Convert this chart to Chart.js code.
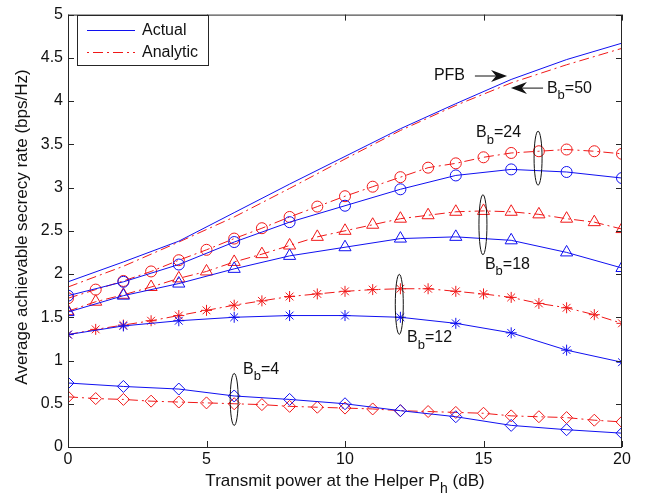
<!DOCTYPE html>
<html>
<head>
<meta charset="utf-8">
<script src="https://cdn.jsdelivr.net/npm/chart.js@4.4.0/dist/chart.umd.min.js"></script>
<style>
  html, body { margin: 0; padding: 0; background: #fff; }
</style>
</head>
<body>
<canvas id="myChart" width="651" height="495"></canvas>
<script>
// transmit power (dB): simulation points every 2 dB, analytic every 1 dB
const powerEven = [0, 2, 4, 6, 8, 10, 12, 14, 16, 18, 20];
const powerAll = [0, 1, 2, 3, 4, 5, 6, 7, 8, 9, 10, 11, 12, 13, 14, 15, 16, 17, 18, 19, 20];

const pfbActual = [1.91, 2.14, 2.38, 2.71, 3.04, 3.36, 3.68, 3.97, 4.25, 4.48, 4.67];
const bb50Analytic = [1.85, 2.09, 2.37, 2.66, 2.99, 3.33, 3.66, 3.95, 4.21, 4.42, 4.61];

const bb24Actual = [1.75, 1.91, 2.11, 2.37, 2.60, 2.79, 2.98, 3.14, 3.21, 3.18, 3.11];
const bb24Analytic = [1.72, 1.82, 1.92, 2.03, 2.16, 2.28, 2.41, 2.53, 2.66, 2.78, 2.90,
  3.01, 3.12, 3.23, 3.28, 3.35, 3.40, 3.42, 3.44, 3.42, 3.39];

const bb18Actual = [1.56, 1.75, 1.89, 2.06, 2.21, 2.31, 2.41, 2.43, 2.39, 2.25, 2.07];
const bb18Analytic = [1.57, 1.68, 1.76, 1.85, 1.95, 2.03, 2.14, 2.23, 2.33, 2.43, 2.50,
  2.57, 2.64, 2.68, 2.72, 2.73, 2.72, 2.69, 2.64, 2.60, 2.52];

const bb12Actual = [1.30, 1.40, 1.46, 1.50, 1.52, 1.52, 1.50, 1.43, 1.32, 1.12, 0.98];
const bb12Analytic = [1.30, 1.36, 1.41, 1.46, 1.52, 1.58, 1.64, 1.69, 1.74, 1.77, 1.80,
  1.82, 1.83, 1.83, 1.80, 1.77, 1.73, 1.66, 1.61, 1.53, 1.43];

const bb4Actual = [0.74, 0.70, 0.67, 0.59, 0.55, 0.50, 0.42, 0.35, 0.25, 0.20, 0.16];
const bb4Analytic = [0.58, 0.56, 0.55, 0.53, 0.52, 0.51, 0.50, 0.49, 0.47, 0.46, 0.45,
  0.44, 0.42, 0.41, 0.40, 0.39, 0.36, 0.35, 0.34, 0.31, 0.29];

const xTicks = [0, 5, 10, 15, 20];
const yTicks = [0, 0.5, 1, 1.5, 2, 2.5, 3, 3.5, 4, 4.5, 5];

const FONT = "'Liberation Sans', Arial, Helvetica, sans-serif";
const BLUE = "#1010f0";
const RED = "#f01818";
const DASHDOT = [10, 4, 2, 4];

function pairs(xs, ys) {
  return xs.map((x, i) => ({ x: x, y: ys[i] }));
}

function actual(label, ys, style, r) {
  return {
    label: label,
    data: pairs(powerEven, ys),
    borderColor: BLUE,
    borderWidth: 1,
    pointStyle: style || false,
    pointRadius: style ? r : 0,
    pointBorderColor: BLUE,
    pointBackgroundColor: "rgba(0,0,0,0)",
    pointBorderWidth: 1,
    tension: 0,
  };
}

function analytic(label, xs, ys, style, r) {
  return {
    label: label,
    data: pairs(xs, ys),
    borderColor: RED,
    borderWidth: 1,
    borderDash: DASHDOT,
    pointStyle: style || false,
    pointRadius: style ? r : 0,
    pointBorderColor: RED,
    pointBackgroundColor: "rgba(0,0,0,0)",
    pointBorderWidth: 1,
    tension: 0,
  };
}

// text with a subscript, e.g. B_b=24
function subText(ctx, x, y, main, sub, rest, size, align) {
  let subSize = Math.round(size * 0.8);
  ctx.font = size + "px " + FONT;
  let w1 = ctx.measureText(main).width;
  let w3 = ctx.measureText(rest).width;
  ctx.font = subSize + "px " + FONT;
  let w2 = ctx.measureText(sub).width;
  let start = x;
  if (align === "center") start = x - (w1 + w2 + w3) / 2;
  ctx.textAlign = "left";
  ctx.textBaseline = "middle";
  ctx.font = size + "px " + FONT;
  ctx.fillText(main, start, y);
  ctx.font = subSize + "px " + FONT;
  ctx.fillText(sub, start + w1, y + size * 0.45);
  ctx.font = size + "px " + FONT;
  ctx.fillText(rest, start + w1 + w2, y);
}

function arrow(ctx, x1, y1, x2, y2) {
  let dir = Math.sign(x2 - x1);
  ctx.beginPath();
  ctx.moveTo(x1, y1);
  ctx.lineTo(x2 - dir * 8, y2);
  ctx.stroke();
  ctx.beginPath();
  ctx.moveTo(x2, y2);
  ctx.lineTo(x2 - dir * 16, y2 - 6);
  ctx.lineTo(x2 - dir * 11, y2);
  ctx.lineTo(x2 - dir * 16, y2 + 6);
  ctx.closePath();
  ctx.fill();
}

const decorPlugin = {
  id: "decor",
  afterDraw(chart) {
    const { ctx, chartArea: a, scales } = chart;
    const sx = scales.x, sy = scales.y;
    const px = (v) => sx.getPixelForValue(v);
    const py = (v) => sy.getPixelForValue(v);
    ctx.save();

    // box and inward ticks
    ctx.strokeStyle = "#262626";
    ctx.lineWidth = 1;
    ctx.setLineDash([]);
    ctx.strokeRect(a.left + 0.5, a.top + 0.5, a.right - a.left - 1, a.bottom - a.top);
    ctx.beginPath();
    xTicks.forEach((t) => {
      let x = Math.round(px(t)) + 0.5;
      ctx.moveTo(x, a.bottom); ctx.lineTo(x, a.bottom - 6);
      ctx.moveTo(x, a.top); ctx.lineTo(x, a.top + 6);
    });
    yTicks.forEach((t) => {
      let y = Math.round(py(t)) + 0.5;
      ctx.moveTo(a.left, y); ctx.lineTo(a.left + 6, y);
      ctx.moveTo(a.right, y); ctx.lineTo(a.right - 6, y);
    });
    ctx.stroke();

    ctx.fillStyle = "#111";
    // axis titles
    subText(ctx, (a.left + a.right) / 2, 481, "Transmit power at the Helper P", "h", " (dB)", 17, "center");
    ctx.save();
    ctx.translate(22, 227);
    ctx.rotate(-Math.PI / 2);
    ctx.font = "17px " + FONT;
    ctx.textAlign = "center";
    ctx.textBaseline = "middle";
    ctx.fillText("Average achievable secrecy rate (bps/Hz)", 0, 0);
    ctx.restore();

    // legend
    ctx.fillStyle = "#fff";
    ctx.fillRect(77.5, 15.5, 131, 50);
    ctx.strokeStyle = "#262626";
    ctx.strokeRect(77.5, 15.5, 131, 50);
    ctx.strokeStyle = BLUE;
    ctx.beginPath(); ctx.moveTo(87, 30.5); ctx.lineTo(135, 30.5); ctx.stroke();
    ctx.strokeStyle = RED;
    ctx.setLineDash(DASHDOT);
    ctx.lineDashOffset = 14;
    ctx.beginPath(); ctx.moveTo(87, 52.5); ctx.lineTo(135, 52.5); ctx.stroke();
    ctx.setLineDash([]);
    ctx.lineDashOffset = 0;
    ctx.fillStyle = "#111";
    ctx.font = "16px " + FONT;
    ctx.textAlign = "left";
    ctx.textBaseline = "middle";
    ctx.fillText("Actual", 142, 31);
    ctx.fillText("Analytic", 142, 53);

    // annotations
    ctx.strokeStyle = "#111";
    ctx.fillStyle = "#111";
    ctx.fillText("PFB", px(13.21), py(4.29));
    arrow(ctx, px(14.69), py(4.29), px(15.85), py(4.29));
    arrow(ctx, px(17.15), py(4.15), px(15.99), py(4.15));
    subText(ctx, px(17.29), py(4.15), "B", "b", "=50", 16, "left");
    subText(ctx, px(14.73), py(3.63), "B", "b", "=24", 16, "left");
    subText(ctx, px(15.05), py(2.11), "B", "b", "=18", 16, "left");
    subText(ctx, px(12.24), py(1.26), "B", "b", "=12", 16, "left");
    subText(ctx, px(6.32), py(0.90), "B", "b", "=4", 16, "left");

    const ellipses = [[16.97, 3.34, 27], [14.98, 2.57, 30], [11.96, 1.65, 30], [6.0, 0.55, 26]];
    ctx.lineWidth = 1;
    ellipses.forEach((e) => {
      ctx.beginPath();
      ctx.ellipse(px(e[0]), py(e[1]), 4, e[2], 0, 0, Math.PI * 2);
      ctx.stroke();
    });
    ctx.restore();
  },
};

const myChart = new Chart(document.getElementById("myChart"), {
  type: "line",
  data: {
    datasets: [
      actual("PFB", pfbActual, null, 0),
      analytic("B_b=50", powerEven, bb50Analytic, null, 0),
      actual("B_b=24 actual", bb24Actual, "circle", 5.5),
      analytic("B_b=24 analytic", powerAll, bb24Analytic, "circle", 5.5),
      actual("B_b=18 actual", bb18Actual, "triangle", 7),
      analytic("B_b=18 analytic", powerAll, bb18Analytic, "triangle", 7),
      actual("B_b=12 actual", bb12Actual, "star", 5.5),
      analytic("B_b=12 analytic", powerAll, bb12Analytic, "star", 5.5),
      actual("B_b=4 actual", bb4Actual, "rectRot", 6),
      analytic("B_b=4 analytic", powerAll, bb4Analytic, "rectRot", 6),
    ],
  },
  options: {
    responsive: false,
    animation: false,
    layout: { padding: { top: 10, right: 29, left: 0, bottom: 0 } },
    plugins: { legend: { display: false }, tooltip: { enabled: false } },
    scales: {
      x: {
        type: "linear",
        min: 0,
        max: 20,
        afterBuildTicks: (s) => { s.ticks = xTicks.map((v) => ({ value: v })); },
        afterFit: (s) => { s.height = 48; },
        grid: { display: false, drawTicks: false, tickLength: 0 },
        border: { display: false },
        ticks: { color: "#111", padding: 3, font: { family: FONT, size: 16 }, callback: (v) => String(v) },
      },
      y: {
        type: "linear",
        min: 0,
        max: 5,
        afterBuildTicks: (s) => { s.ticks = yTicks.map((v) => ({ value: v })); },
        afterFit: (s) => { s.width = 68; },
        grid: { display: false, drawTicks: false, tickLength: 0 },
        border: { display: false },
        ticks: { color: "#111", padding: 5, font: { family: FONT, size: 16 }, callback: (v) => String(v) },
      },
    },
  },
  plugins: [decorPlugin],
});
</script>
</body>
</html>
